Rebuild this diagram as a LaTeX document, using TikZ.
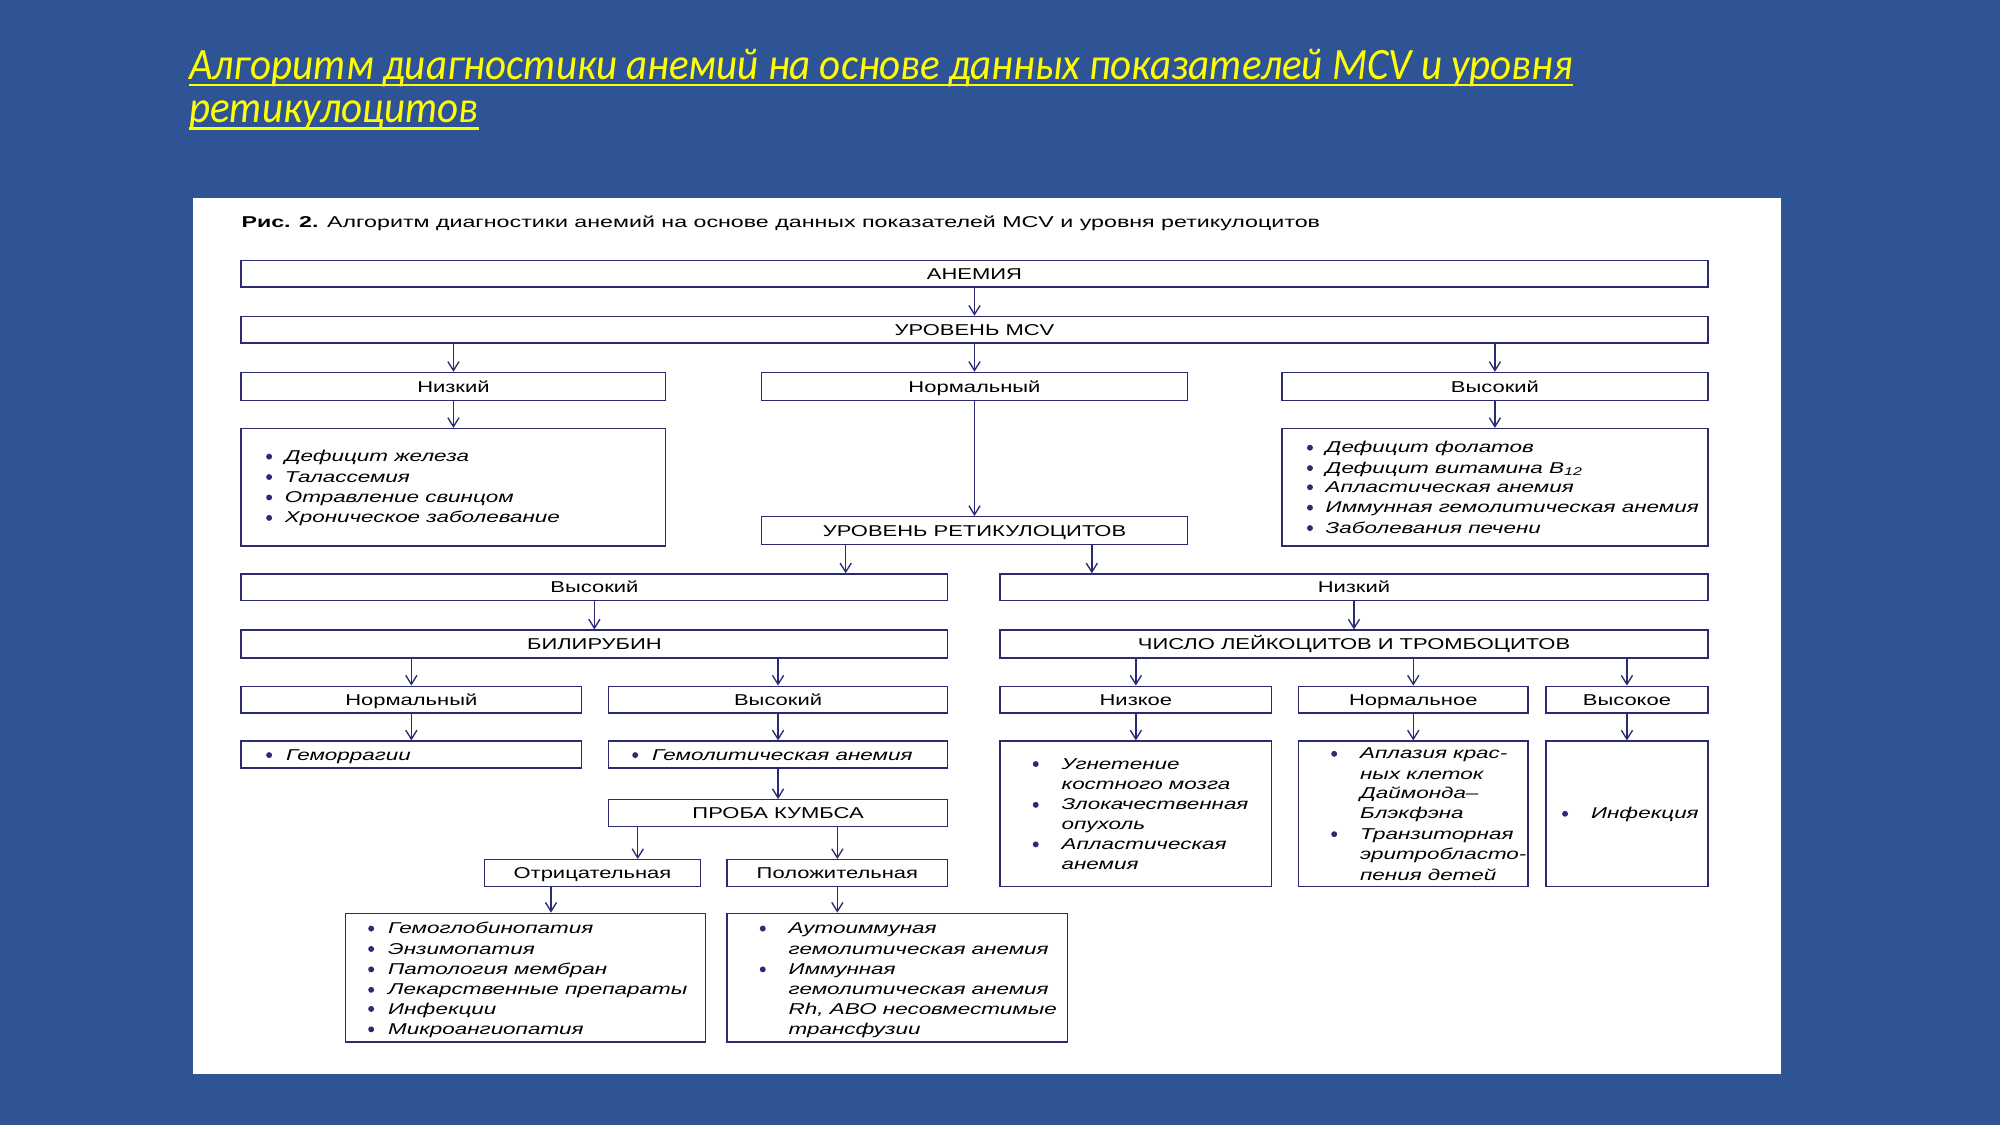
\documentclass[tikz,border=0pt]{standalone}
\usepackage{fontspec}
\setmainfont{Liberation Sans}
\newfontfamily\titlefont[FakeStretch=0.915]{Carlito}
\newfontfamily\figfont[FakeStretch=1.4]{Liberation Sans}
\newfontfamily\itemfont[FakeStretch=1.43]{Liberation Sans}
\newfontfamily\capfont[FakeStretch=1.48]{Liberation Sans}
\usetikzlibrary{arrows.meta}

\definecolor{slideblue}{RGB}{46,84,150}
\definecolor{navy}{RGB}{43,43,115}
\definecolor{titleyellow}{RGB}{255,255,0}

\tikzset{
	box/.style={draw=navy, line width=0.6pt, fill=white, inner sep=0pt,
		font=\figfont\fontsize{7}{8}\selectfont, text height=5pt, text depth=0pt},
	item/.style={inner sep=0pt, anchor=base west, font=\itemfont\itshape\fontsize{7}{8}\selectfont},
	caption/.style={inner sep=0pt, anchor=base west, font=\capfont\fontsize{7}{8}\selectfont},
	titletext/.style={inner sep=0pt, anchor=base west, text=titleyellow,
		font=\titlefont\itshape\fontsize{20}{24}\selectfont},
	titleline/.style={draw=titleyellow, line width=1.1pt},
	arr/.style={draw=navy, line width=0.6pt, -{Straight Barb[length=4pt,width=5pt]}},
}

% box from left/top/right/bottom corner values
\newcommand{\boxat}[6]{%
	\node[box, minimum width={(#4-#2)*0.02cm}, minimum height={(#5-#3)*0.02cm}]
		(#1) at ({(#2+#4)/2},{(#3+#5)/2}) {#6};}

\begin{document}
\begin{tikzpicture}[x=0.02cm, y=-0.02cm]
		\useasboundingbox (0,0) rectangle (1568,882);
		\fill[slideblue] (0,0) rectangle (1568,882);
		\fill[white] (151,155) rectangle (1396,842);

		\node[titletext] (title1) at (148,62) {Алгоритм диагностики анемий на основе данных показателей MCV и уровня};
		\node[titletext] (title2) at (148,96) {ретикулоцитов};
		\draw[titleline] ([yshift=-2.6pt]title1.base west) -- ([yshift=-2.6pt]title1.base east);
		\draw[titleline] ([yshift=-2.6pt]title2.base west) -- ([yshift=-2.6pt]title2.base east);

		\node[caption] (cap) at (189,178) {\textbf{Рис. 2.} Алгоритм диагностики анемий на основе данных показателей MCV и уровня ретикулоцитов};

		% top part
		\boxat{anemia}{189}{204}{1339}{225}{АНЕМИЯ}
		\boxat{mcv}{189}{248}{1339}{269}{УРОВЕНЬ MCV}
		\boxat{mlow}{189}{292}{522}{314}{Низкий}
		\boxat{mnorm}{597}{292}{931}{314}{Нормальный}
		\boxat{mhigh}{1005}{292}{1339}{314}{Высокий}
		\boxat{mlowlist}{189}{336}{522}{428}{}
		\boxat{mhighlist}{1005}{336}{1339}{428}{}
		\boxat{retic}{597}{405}{931}{427}{УРОВЕНЬ РЕТИКУЛОЦИТОВ}

		% reticulocytes high
		\boxat{rhigh}{189}{450}{743}{471}{Высокий}
		\boxat{bili}{189}{494}{743}{516}{БИЛИРУБИН}
		\boxat{bnorm}{189}{538}{456}{559}{Нормальный}
		\boxat{bhigh}{477}{538}{743}{559}{Высокий}
		\boxat{bnormlist}{189}{581}{456}{602}{}
		\boxat{bhighlist}{477}{581}{743}{602}{}
		\boxat{coombs}{477}{627}{743}{648}{ПРОБА КУМБСА}
		\boxat{cneg}{380}{674}{549}{695}{Отрицательная}
		\boxat{cpos}{570}{674}{743}{695}{Положительная}
		\boxat{cneglist}{271}{716}{553}{817}{}
		\boxat{cposlist}{570}{716}{837}{817}{}

		% reticulocytes low
		\boxat{rlow}{784}{450}{1339}{471}{Низкий}
		\boxat{cells}{784}{494}{1339}{516}{ЧИСЛО ЛЕЙКОЦИТОВ И ТРОМБОЦИТОВ}
		\boxat{clow}{784}{538}{997}{559}{Низкое}
		\boxat{cnorm}{1018}{538}{1198}{559}{Нормальное}
		\boxat{chigh}{1212}{538}{1339}{559}{Высокое}
		\boxat{clowlist}{784}{581}{997}{695}{}
		\boxat{cnormlist}{1018}{581}{1198}{695}{}
		\boxat{chighlist}{1212}{581}{1339}{695}{}

		% list texts
		\filldraw[navy] (211,358) circle (1.1pt); \node[item] (lw1) at (223,362) {Дефицит железа};
		\filldraw[navy] (211,374) circle (1.1pt); \node[item] (lw2) at (223,378) {Талассемия};
		\filldraw[navy] (211,390) circle (1.1pt); \node[item] (lw3) at (223,394) {Отравление свинцом};
		\filldraw[navy] (211,406) circle (1.1pt); \node[item] (lw4) at (223,410) {Хроническое заболевание};

		\filldraw[navy] (1027,351) circle (1.1pt); \node[item] (hg1) at (1039,355) {Дефицит фолатов};
		\filldraw[navy] (1027,367) circle (1.1pt); \node[item] (hg2) at (1039,371) {Дефицит витамина B\textsubscript{12}};
		\filldraw[navy] (1027,382) circle (1.1pt); \node[item] (hg3) at (1039,386) {Апластическая анемия};
		\filldraw[navy] (1027,398) circle (1.1pt); \node[item] (hg4) at (1039,402) {Иммунная гемолитическая анемия};
		\filldraw[navy] (1027,414) circle (1.1pt); \node[item] (hg5) at (1039,418) {Заболевания печени};

		\filldraw[navy] (211,592) circle (1.1pt); \node[item] (bn1) at (224,596) {Геморрагии};
		\filldraw[navy] (498,592) circle (1.1pt); \node[item] (bh1) at (511,596) {Гемолитическая анемия};

		\filldraw[navy] (291,728) circle (1.1pt); \node[item] (ng1) at (304,732) {Гемоглобинопатия};
		\filldraw[navy] (291,744) circle (1.1pt); \node[item] (ng2) at (304,748) {Энзимопатия};
		\filldraw[navy] (291,760) circle (1.1pt); \node[item] (ng3) at (304,764) {Патология мембран};
		\filldraw[navy] (291,776) circle (1.1pt); \node[item] (ng4) at (304,780) {Лекарственные препараты};
		\filldraw[navy] (291,791) circle (1.1pt); \node[item] (ng5) at (304,795) {Инфекции};
		\filldraw[navy] (291,807) circle (1.1pt); \node[item] (ng6) at (304,811) {Микроангиопатия};

		\filldraw[navy] (598,728) circle (1.1pt); \node[item] (ps1) at (618,732) {Аутоиммуная};
		\node[item] (ps2) at (618,748) {гемолитическая анемия};
		\filldraw[navy] (598,760) circle (1.1pt); \node[item] (ps3) at (618,764) {Иммунная};
		\node[item] (ps4) at (618,780) {гемолитическая анемия};
		\node[item] (ps5) at (618,795) {Rh, АВО несовместимые};
		\node[item] (ps6) at (618,811) {трансфузии};

		\filldraw[navy] (812,599) circle (1.1pt); \node[item] (cl1) at (832,603) {Угнетение};
		\node[item] (cl2) at (832,619) {костного мозга};
		\filldraw[navy] (812,631) circle (1.1pt); \node[item] (cl3) at (832,635) {Злокачественная};
		\node[item] (cl4) at (832,650) {опухоль};
		\filldraw[navy] (812,662) circle (1.1pt); \node[item] (cl5) at (832,666) {Апластическая};
		\node[item] (cl6) at (832,682) {анемия};

		\filldraw[navy] (1046,591) circle (1.1pt); \node[item] (cn1) at (1066,595) {Аплазия крас-};
		\node[item] (cn2) at (1066,611) {ных клеток};
		\node[item] (cn3) at (1066,626) {Даймонда–};
		\node[item] (cn4) at (1066,642) {Блэкфэна};
		\filldraw[navy] (1046,654) circle (1.1pt); \node[item] (cn5) at (1066,658) {Транзиторная};
		\node[item] (cn6) at (1066,674) {эритробласто-};
		\node[item] (cn7) at (1066,690) {пения детей};

		\filldraw[navy] (1227,638) circle (1.1pt); \node[item] (ch1) at (1247,642) {Инфекция};

		% arrows
		\coordinate (xa) at (663,0);
		\coordinate (xb) at (856,0);
		\coordinate (xc) at (500,0);
		\coordinate (xd) at (432,0);

		\draw[arr] (anemia.south) -- (mcv.north);
		\draw[arr] (mcv.south -| mlow.north) -- (mlow.north);
		\draw[arr] (mcv.south -| mnorm.north) -- (mnorm.north);
		\draw[arr] (mcv.south -| mhigh.north) -- (mhigh.north);
		\draw[arr] (mlow.south) -- (mlowlist.north);
		\draw[arr] (mhigh.south) -- (mhighlist.north);
		\draw[arr] (mnorm.south) -- (retic.north);
		\draw[arr] (retic.south -| xa) -- (rhigh.north -| xa);
		\draw[arr] (retic.south -| xb) -- (rlow.north -| xb);

		\draw[arr] (rhigh.south) -- (bili.north);
		\draw[arr] (bili.south -| bnorm.north) -- (bnorm.north);
		\draw[arr] (bili.south -| bhigh.north) -- (bhigh.north);
		\draw[arr] (bnorm.south) -- (bnormlist.north);
		\draw[arr] (bhigh.south) -- (bhighlist.north);
		\draw[arr] (bhighlist.south) -- (coombs.north);
		\draw[arr] (coombs.south -| xc) -- (cneg.north -| xc);
		\draw[arr] (coombs.south -| cpos.north) -- (cpos.north);
		\draw[arr] (cneg.south -| xd) -- (cneglist.north -| xd);
		\draw[arr] (cpos.south) -- (cposlist.north -| cpos.south);

		\draw[arr] (rlow.south) -- (cells.north);
		\draw[arr] (cells.south -| clow.north) -- (clow.north);
		\draw[arr] (cells.south -| cnorm.north) -- (cnorm.north);
		\draw[arr] (cells.south -| chigh.north) -- (chigh.north);
		\draw[arr] (clow.south) -- (clowlist.north);
		\draw[arr] (cnorm.south) -- (cnormlist.north);
		\draw[arr] (chigh.south) -- (chighlist.north);

	\end{tikzpicture}
\end{document}
